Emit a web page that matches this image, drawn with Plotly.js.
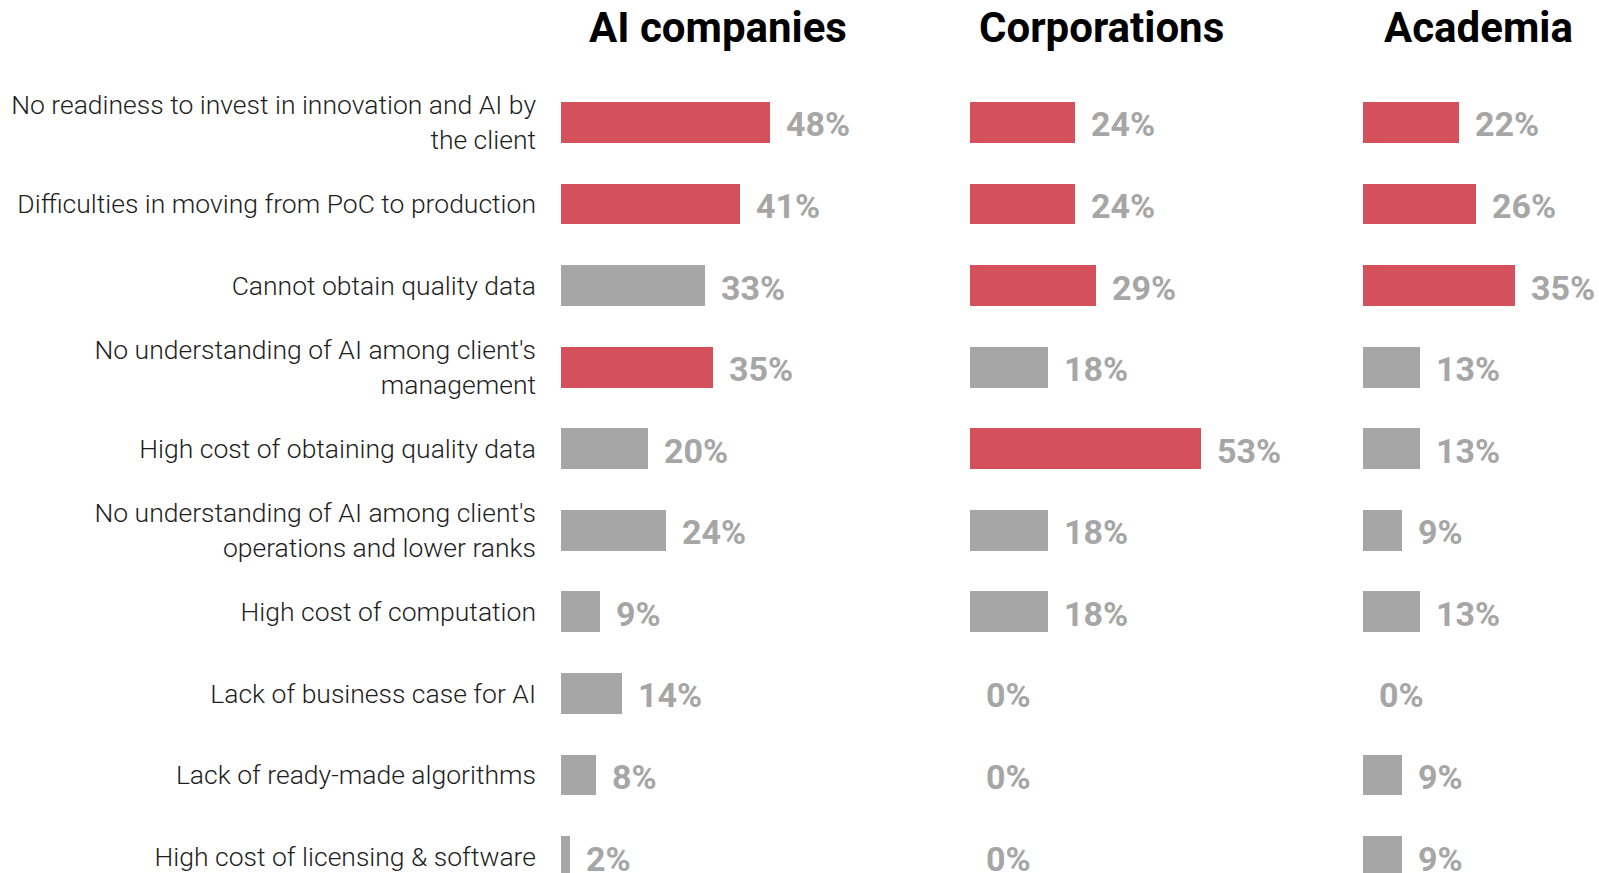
<!DOCTYPE html>
<html>
<head>
<meta charset="utf-8">
<script src="https://cdn.plot.ly/plotly-3.0.1.min.js"></script>
<style>
  html, body { margin: 0; padding: 0; background: #fff; }
  #chart { width: 1599px; height: 873px; }
</style>
</head>
<body>
<div id="chart"></div>
<script>
// Barriers to AI adoption, share of respondents per group
const categories = [
    "No readiness to invest in innovation and AI by<br>the client",
    "Difficulties in moving from PoC to production",
    "Cannot obtain quality data",
    "No understanding of AI among client's<br>management",
    "High cost of obtaining quality data",
    "No understanding of AI among client's<br>operations and lower ranks",
    "High cost of computation",
    "Lack of business case for AI",
    "Lack of ready-made algorithms",
    "High cost of licensing & software"
];

const groups = ["AI companies", "Corporations", "Academia"];

const aiCompanies = [48, 41, 33, 35, 20, 24, 9, 14, 8, 2];
const corporations = [24, 24, 29, 18, 53, 18, 18, 0, 0, 0];
const academia = [22, 26, 35, 13, 13, 9, 13, 0, 9, 9];

const seriesValues = [aiCompanies, corporations, academia];

const COLORS = {
    highlight: '#d4505a',
    normal: '#a6a6a6',
    label: '#a6a6a6',
    text: '#1e1e1e'
};

const W = 1599;
const H = 873;
const PX_PER_PCT = 4.355;
const colStarts = [561, 970, 1363];   // left edge of each panel, px
const titleCenters = [718, 1101, 1478];  // px

// top three values (ties included) are highlighted
function barColors(values) {
    const third = [...values].sort((a, b) => b - a)[2];
    return values.map(v => (v >= third ? COLORS.highlight : COLORS.normal));
}

const rowIdx = categories.map((c, i) => i);

const traces = seriesValues.map((vals, k) => ({
    type: 'bar',
    orientation: 'h',
    x: vals,
    y: rowIdx,
    width: 0.5,
    xaxis: k === 0 ? 'x' : 'x' + (k + 1),
    yaxis: 'y',
    marker: { color: barColors(vals), line: { width: 0 } },
    hoverinfo: 'skip'
}));

const layout = {
    width: W,
    height: H,
    margin: { l: 0, r: 0, t: 0, b: 0 },
    paper_bgcolor: '#fff',
    plot_bgcolor: '#fff',
    showlegend: false,
    bargap: 0,
    yaxis: {
        domain: [0, 1 - 81.6 / H],
        range: [-0.5 + 791.4 / 81.58, -0.5],
        tickvals: rowIdx,
        ticktext: categories,
        ticks: '',
        ticklabelstandoff: 24,
        showgrid: false,
        zeroline: false,
        showline: false,
        tickfont: { family: 'Roboto, sans-serif', size: 26.5, weight: 300, color: COLORS.text },
        anchor: 'x',
        fixedrange: true
    },
    annotations: []
};

// one x axis per panel, same pixel scale for all
colStarts.forEach((start, k) => {
    const end = k < colStarts.length - 1 ? colStarts[k + 1] - 10 : W;
    const name = k === 0 ? 'xaxis' : 'xaxis' + (k + 1);
    layout[name] = {
        domain: [start / W, end / W],
        range: [0, (end - start) / PX_PER_PCT],
        anchor: 'y',
        visible: false,
        fixedrange: true
    };
});

// value labels
seriesValues.forEach((vals, k) => {
    const xref = k === 0 ? 'x' : 'x' + (k + 1);
    vals.forEach((v, i) => {
        layout.annotations.push({
            xref: xref,
            yref: 'y',
            x: v,
            y: i,
            text: v + '%',
            showarrow: false,
            xanchor: 'left',
            yanchor: 'middle',
            xshift: 14,
            yshift: -2,
            font: { family: 'Roboto, sans-serif', size: 34, weight: 700, color: COLORS.label }
        });
    });
});

// panel titles
groups.forEach((g, k) => {
    layout.annotations.push({
        xref: 'paper',
        yref: 'paper',
        x: titleCenters[k] / W,
        y: 1 - 28 / H,
        text: g,
        showarrow: false,
        xanchor: 'center',
        yanchor: 'middle',
        font: { family: 'Roboto, sans-serif', size: 42, weight: 700, color: '#000' }
    });
});

Plotly.newPlot('chart', traces, layout, { displayModeBar: false, staticPlot: true });
</script>
</body>
</html>
